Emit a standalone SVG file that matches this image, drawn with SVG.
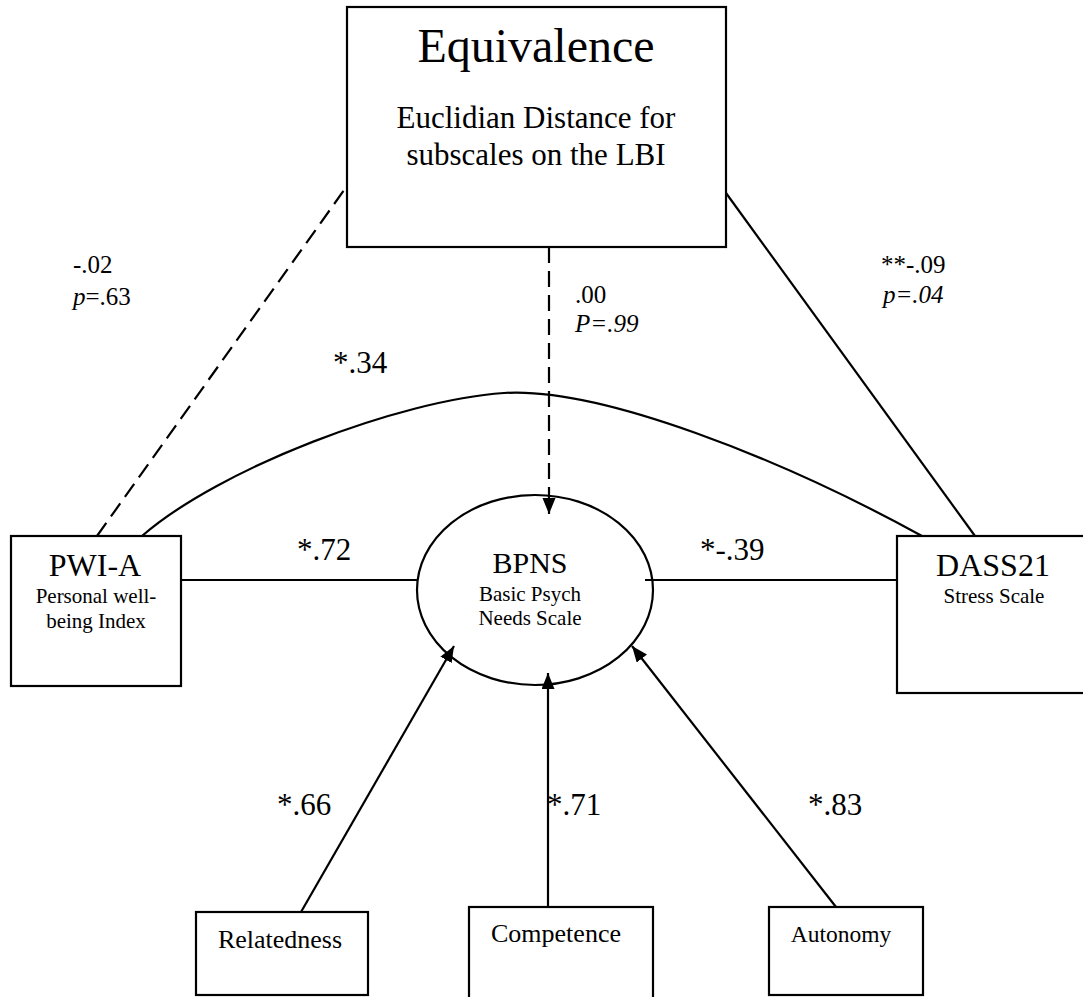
<svg xmlns="http://www.w3.org/2000/svg" width="1083" height="997" viewBox="0 0 1083 997">
  <style>
    .box { fill: #fff; stroke: #000; stroke-width: 2.2; }
    .ln { fill: none; stroke: #000; stroke-width: 2.2; }
    .dash { stroke-dasharray: 16 8; }
    text { font-family: "Liberation Serif", "Times New Roman", serif; fill: #000; }
    .mid { text-anchor: middle; }
    .lbl { font-size: 31px; }
    .coef { font-size: 25px; }
    .it { font-style: italic; }
  </style>
  <defs>
    <marker id="arrow" markerWidth="18" markerHeight="14" refX="16" refY="6.5" orient="auto" markerUnits="userSpaceOnUse">
      <path d="M0,0 L16,6.5 L0,13 z" fill="#000"/>
    </marker>
  </defs>
  <rect width="1083" height="997" fill="#fff"/>

  <g id="equivalence">
    <rect class="box" x="347" y="7" width="379" height="240"/>
    <text class="mid" x="536" y="62" font-size="48">Equivalence</text>
    <text class="mid" x="536" y="128" font-size="31">Euclidian Distance for</text>
    <text class="mid" x="536" y="165" font-size="31">subscales on the LBI</text>
  </g>

  <g id="pwi">
    <rect class="box" x="11" y="536" width="170" height="150"/>
    <text class="mid" x="95" y="576" font-size="32">PWI-A</text>
    <text class="mid" x="96" y="603" font-size="21">Personal well-</text>
    <text class="mid" x="96" y="628" font-size="21">being Index</text>
  </g>

  <g id="bpns">
    <ellipse class="box" cx="535" cy="590" rx="118" ry="95"/>
    <text class="mid" x="530" y="573" font-size="30">BPNS</text>
    <text class="mid" x="530" y="601" font-size="21">Basic Psych</text>
    <text class="mid" x="530" y="625" font-size="21">Needs Scale</text>
  </g>

  <g id="dass">
    <rect class="box" x="897" y="536" width="200" height="157"/>
    <text class="mid" x="993" y="576" font-size="32">DASS21</text>
    <text class="mid" x="994" y="603" font-size="21">Stress Scale</text>
  </g>

  <g id="relatedness">
    <rect class="box" x="196" y="912" width="172" height="83"/>
    <text class="mid" x="280" y="948" font-size="26">Relatedness</text>
  </g>

  <g id="competence">
    <rect class="box" x="469" y="907" width="184" height="100"/>
    <text class="mid" x="556" y="942" font-size="26">Competence</text>
  </g>

  <g id="autonomy">
    <rect class="box" x="769" y="907" width="154" height="88"/>
    <text class="mid" x="841" y="942" font-size="23.5">Autonomy</text>
  </g>

  <!-- connectors, drawn over the node outlines so arrowheads stay visible -->
  <g id="connectors">
    <path class="ln dash" d="M97,536 L347,186"/>
    <path class="ln" d="M726,193 L975,536"/>
    <path class="ln dash" d="M549,247 L549,514" marker-end="url(#arrow)"/>
    <path class="ln" d="M142,536 C220,468 400,400 504,393 C600,387 780,458 922,536"/>
    <path class="ln" d="M181,580 L417,580"/>
    <path class="ln" d="M645,580 L897,580"/>
    <path class="ln" d="M301,912 L454,646" marker-end="url(#arrow)"/>
    <path class="ln" d="M548,907 L548,673" marker-end="url(#arrow)"/>
    <path class="ln" d="M836,907 L632,646" marker-end="url(#arrow)"/>
  </g>

  <!-- path coefficients -->
  <g id="labels">
    <text class="coef" x="73" y="273">-.02</text>
    <text class="coef" x="73" y="305"><tspan class="it">p</tspan>=.63</text>
    <text class="coef" x="575" y="303">.00</text>
    <text class="coef it" x="575" y="332">P=.99</text>
    <text class="coef" x="881" y="273">**-.09</text>
    <text class="coef it" x="883" y="303">p=.04</text>
    <text class="lbl" x="333" y="373">*.34</text>
    <text class="lbl" x="297" y="560">*.72</text>
    <text class="lbl" x="700" y="560">*-.39</text>
    <text class="lbl" x="277" y="815">*.66</text>
    <text class="lbl" x="547" y="815">*.71</text>
    <text class="lbl" x="808" y="815">*.83</text>
  </g>
</svg>
